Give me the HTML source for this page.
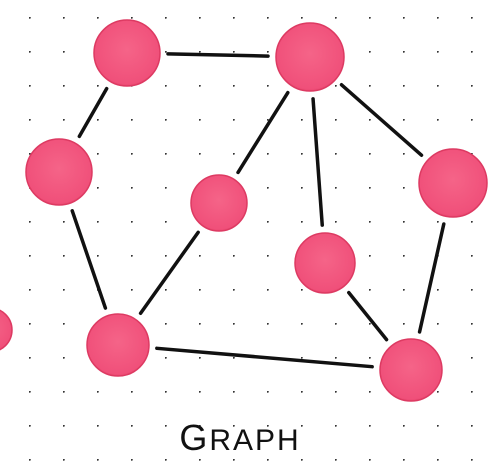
<!DOCTYPE html>
<html><head><meta charset="utf-8"><style>
html,body{margin:0;padding:0;background:#fff;width:500px;height:472px;overflow:hidden}
</style></head><body>
<svg id="chart" width="500" height="472" viewBox="0 0 500 472" xmlns="http://www.w3.org/2000/svg">
<defs>
<pattern id="dots" x="29" y="17" width="34" height="34" patternUnits="userSpaceOnUse">
<circle cx="0.8" cy="0.8" r="1" fill="#333"/>
</pattern>
<radialGradient id="ink" cx="50%" cy="45%" r="60%">
<stop offset="0%" stop-color="#f56488"/><stop offset="85%" stop-color="#f0507a"/><stop offset="100%" stop-color="#e43d66"/>
</radialGradient>
</defs>
<rect width="500" height="472" fill="#fff"/>
<rect width="500" height="472" fill="url(#dots)"/>
<g id="edges" stroke="#111" stroke-width="3.5" stroke-linecap="round" fill="none"></g>
<g id="nodes"></g>
<text x="240" y="450" text-anchor="middle" font-family="Liberation Sans, sans-serif" font-size="36" letter-spacing="2" fill="#111">G<tspan font-size="30">RAPH</tspan></text>
</svg>
<script>
const nodeNames=['A','B','C','D','E','F','G','H','I'];
const nodeX=[127,310,59,219,453,325,118,411,-10];
const nodeY=[53,57,172,203,183,263,345,370,330];
const nodeR=[33,34,33,28,34,30,31,31,22];
const edgeFrom=[0,0,1,1,1,2,3,6,5,4];
const edgeTo=[1,2,3,5,4,6,6,7,7,7];
const NS='http://www.w3.org/2000/svg';
const eg=document.getElementById('edges'),ng=document.getElementById('nodes');
for(let i=0;i<edgeFrom.length;i++){
 const a=edgeFrom[i],b=edgeTo[i];
 const dx=nodeX[b]-nodeX[a],dy=nodeY[b]-nodeY[a],d=Math.hypot(dx,dy);
 const g1=nodeR[a]+8,g2=nodeR[b]+8;
 const l=document.createElementNS(NS,'line');
 l.setAttribute('x1',nodeX[a]+dx*g1/d);l.setAttribute('y1',nodeY[a]+dy*g1/d);
 l.setAttribute('x2',nodeX[b]-dx*g2/d);l.setAttribute('y2',nodeY[b]-dy*g2/d);
 
 
 eg.appendChild(l);
}
for(let i=0;i<nodeX.length;i++){
 const c=document.createElementNS(NS,'circle');
 c.setAttribute('cx',nodeX[i]);c.setAttribute('cy',nodeY[i]);c.setAttribute('r',nodeR[i]);
 c.setAttribute('fill','url(#ink)');c.setAttribute('stroke','#dd3a62');c.setAttribute('stroke-width','1.5');
 
 
 ng.appendChild(c);
}
</script>
</body></html>
